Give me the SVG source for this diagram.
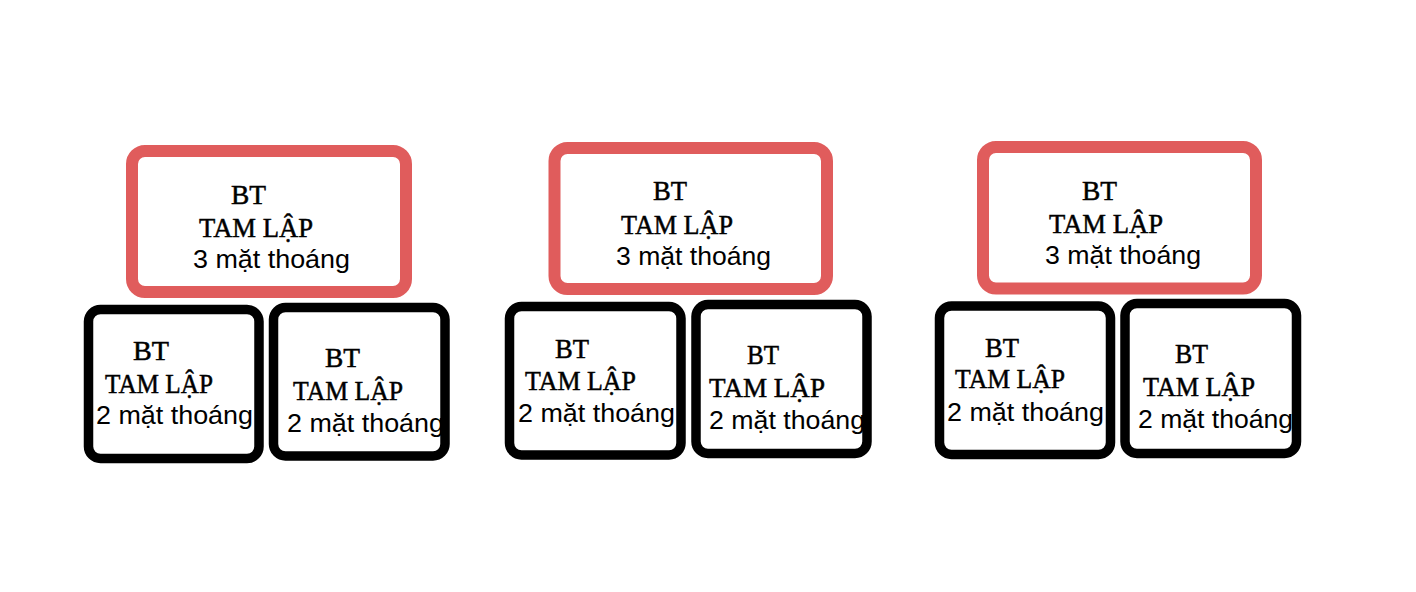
<svg xmlns="http://www.w3.org/2000/svg" width="1416" height="592" viewBox="0 0 1416 592">
<style>
.red{fill:#fff;stroke:#E05C5C;stroke-width:12}
.blk{fill:#fff;stroke:#000;stroke-width:9.5}
.h{font-family:"Liberation Serif","DejaVu Serif",serif;font-size:28px;fill:#000;stroke:#000;stroke-width:0.5}
.s{font-family:"Liberation Sans",Arial,sans-serif;font-size:25px;fill:#000}
</style>
<rect width="1416" height="592" fill="#fff"/>
<g id="g1-top">
<rect class="red" x="132" y="151" width="274" height="141" rx="13"/>
<text class="h" x="231" y="204" textLength="35" lengthAdjust="spacingAndGlyphs">BT</text>
<text class="h" x="199" y="237" textLength="114" lengthAdjust="spacingAndGlyphs">TAM LẬP</text>
<text class="s" x="193" y="268" textLength="157" lengthAdjust="spacingAndGlyphs">3 mặt thoáng</text>
</g>
<g id="g1-left">
<rect class="blk" x="88.5" y="309.5" width="170.5" height="149" rx="12"/>
<text class="h" x="133" y="360" textLength="36" lengthAdjust="spacingAndGlyphs">BT</text>
<text class="h" x="105" y="393" textLength="108" lengthAdjust="spacingAndGlyphs">TAM LẬP</text>
<text class="s" x="96" y="424" textLength="157" lengthAdjust="spacingAndGlyphs">2 mặt thoáng</text>
</g>
<g id="g1-right">
<rect class="blk" x="273.5" y="307.5" width="171.5" height="148.5" rx="12"/>
<text class="h" x="325" y="367" textLength="35" lengthAdjust="spacingAndGlyphs">BT</text>
<text class="h" x="293" y="400" textLength="110" lengthAdjust="spacingAndGlyphs">TAM LẬP</text>
<text class="s" x="287" y="432" textLength="157" lengthAdjust="spacingAndGlyphs">2 mặt thoáng</text>
</g>
<g id="g2-top">
<rect class="red" x="554.5" y="148" width="272.5" height="141" rx="13"/>
<text class="h" x="653" y="200" textLength="34" lengthAdjust="spacingAndGlyphs">BT</text>
<text class="h" x="621" y="234" textLength="112" lengthAdjust="spacingAndGlyphs">TAM LẬP</text>
<text class="s" x="616" y="265" textLength="155" lengthAdjust="spacingAndGlyphs">3 mặt thoáng</text>
</g>
<g id="g2-left">
<rect class="blk" x="509.5" y="306.5" width="171.5" height="148.5" rx="12"/>
<text class="h" x="555" y="358" textLength="34" lengthAdjust="spacingAndGlyphs">BT</text>
<text class="h" x="525" y="390" textLength="111" lengthAdjust="spacingAndGlyphs">TAM LẬP</text>
<text class="s" x="518" y="422" textLength="157" lengthAdjust="spacingAndGlyphs">2 mặt thoáng</text>
</g>
<g id="g2-right">
<rect class="blk" x="696" y="304.5" width="171" height="149" rx="12"/>
<text class="h" x="747" y="364" textLength="32" lengthAdjust="spacingAndGlyphs">BT</text>
<text class="h" x="709" y="397" textLength="116" lengthAdjust="spacingAndGlyphs">TAM LẬP</text>
<text class="s" x="709" y="429" textLength="156" lengthAdjust="spacingAndGlyphs">2 mặt thoáng</text>
</g>
<g id="g3-top">
<rect class="red" x="983" y="147" width="273" height="141.5" rx="13"/>
<text class="h" x="1082" y="200" textLength="35" lengthAdjust="spacingAndGlyphs">BT</text>
<text class="h" x="1049" y="233" textLength="114" lengthAdjust="spacingAndGlyphs">TAM LẬP</text>
<text class="s" x="1045" y="264" textLength="156" lengthAdjust="spacingAndGlyphs">3 mặt thoáng</text>
</g>
<g id="g3-left">
<rect class="blk" x="939.5" y="306" width="171" height="148.5" rx="12"/>
<text class="h" x="985" y="357" textLength="34" lengthAdjust="spacingAndGlyphs">BT</text>
<text class="h" x="955" y="388" textLength="110" lengthAdjust="spacingAndGlyphs">TAM LẬP</text>
<text class="s" x="947" y="421" textLength="157" lengthAdjust="spacingAndGlyphs">2 mặt thoáng</text>
</g>
<g id="g3-right">
<rect class="blk" x="1125" y="303.5" width="171.5" height="150" rx="12"/>
<text class="h" x="1175" y="363" textLength="33" lengthAdjust="spacingAndGlyphs">BT</text>
<text class="h" x="1143" y="396" textLength="112" lengthAdjust="spacingAndGlyphs">TAM LẬP</text>
<text class="s" x="1138" y="428" textLength="155" lengthAdjust="spacingAndGlyphs">2 mặt thoáng</text>
</g>
<g id="connectors"/>
</svg>
